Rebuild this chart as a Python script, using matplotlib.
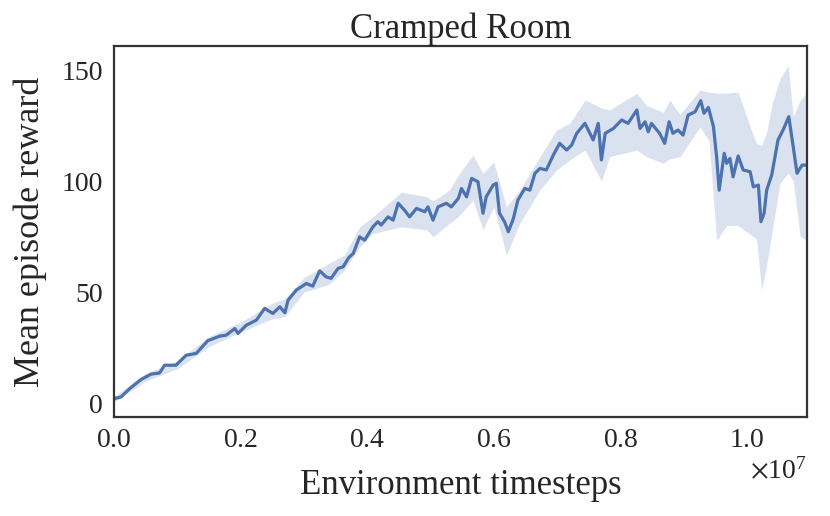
import matplotlib
matplotlib.use("Agg")
import matplotlib.pyplot as plt
import numpy as np
import seaborn as sns
from matplotlib.ticker import ScalarFormatter

# mean reward curve (x in units of 1e7 timesteps)
steps_e7 = [0.001, 0.011, 0.025, 0.043, 0.059, 0.072, 0.080, 0.098, 0.114, 0.130,
            0.148, 0.167, 0.177, 0.191, 0.196, 0.209, 0.225, 0.238, 0.251, 0.262,
            0.270, 0.275, 0.288, 0.304, 0.314, 0.325, 0.335, 0.343, 0.354, 0.362,
            0.371, 0.378, 0.388, 0.396, 0.409, 0.417, 0.422, 0.433, 0.441, 0.449,
            0.459, 0.467, 0.478, 0.491, 0.496, 0.504, 0.512, 0.525, 0.533, 0.544,
            0.549, 0.557, 0.565, 0.575, 0.583, 0.588, 0.599, 0.604, 0.609, 0.617,
            0.623, 0.631, 0.638, 0.649, 0.657, 0.665, 0.673, 0.683, 0.694, 0.704,
            0.715, 0.723, 0.731, 0.744, 0.757, 0.765, 0.770, 0.776, 0.789, 0.802,
            0.812, 0.826, 0.831, 0.839, 0.844, 0.849, 0.862, 0.870, 0.877, 0.883,
            0.891, 0.899, 0.907, 0.918, 0.927, 0.932, 0.939, 0.947, 0.952, 0.956,
            0.964, 0.968, 0.973, 0.978, 0.986, 0.994, 1.005, 1.010, 1.018, 1.022,
            1.027, 1.031, 1.039, 1.049, 1.057, 1.066, 1.073, 1.079, 1.087, 1.093]
mean_reward = [2.1, 2.8, 6.6, 10.7, 13.1, 13.6, 17.1, 17.1, 21.6, 22.4,
               28.1, 30.2, 30.6, 33.6, 31.4, 35.1, 37.4, 42.7, 40.4, 43.4,
               40.7, 46.4, 50.9, 53.9, 52.7, 59.6, 56.9, 56.2, 60.7, 61.4,
               65.6, 67.4, 74.9, 73.4, 79.4, 81.7, 80.2, 83.9, 82.4, 90.0,
               86.9, 83.9, 87.7, 86.2, 88.4, 82.4, 88.4, 90.0, 88.4, 92.2,
               96.7, 92.9, 101.2, 99.7, 85.5, 92.9, 98.2, 99.0, 85.5, 81.7,
               77.2, 83.2, 91.4, 96.7, 95.9, 103.5, 105.7, 105.0, 111.7, 117.0,
               114.0, 116.2, 121.5, 126.0, 118.5, 126.0, 109.5, 121.5, 123.7, 127.5,
               126.0, 132.0, 123.7, 126.7, 122.2, 126.0, 121.5, 117.0, 126.7, 121.5,
               123.0, 120.7, 129.7, 131.2, 136.2, 130.5, 133.2, 124.5, 110.9, 95.9,
               112.5, 108.0, 110.2, 101.9, 111.3, 105.0, 104.2, 97.4, 98.2, 81.7,
               85.5, 95.9, 102.7, 118.5, 123.0, 129.0, 115.5, 103.5, 107.2, 107.2]

# shaded band around the mean
band_e7 = [0.000, 0.050, 0.100, 0.150, 0.200, 0.250, 0.270, 0.300, 0.340, 0.364,
           0.388, 0.409, 0.454, 0.494, 0.504, 0.530, 0.544, 0.567, 0.583, 0.600,
           0.620, 0.641, 0.673, 0.699, 0.720, 0.744, 0.770, 0.783, 0.826, 0.841,
           0.868, 0.878, 0.894, 0.926, 0.940, 0.952, 0.968, 0.986, 1.005, 1.015,
           1.023, 1.031, 1.040, 1.052, 1.065, 1.073, 1.084, 1.094]
band_lo = [0.5, 10.0, 15.5, 25.5, 32.0, 38.0, 39.0, 50.0, 53.5, 59.9,
           70.4, 76.4, 79.4, 78.0, 74.9, 81.0, 84.0, 91.4, 78.0, 88.4,
           66.7, 81.0, 96.0, 105.0, 109.5, 114.0, 100.0, 111.0, 114.0, 111.0,
           108.0, 110.0, 111.0, 124.3, 118.0, 73.4, 80.0, 80.0, 76.0, 74.0,
           51.0, 62.0, 78.0, 99.0, 103.6, 100.0, 75.0, 73.4]
band_hi = [3.0, 13.5, 19.0, 30.0, 36.5, 45.0, 47.0, 56.5, 63.0, 66.7,
           79.4, 83.9, 95.0, 93.0, 91.0, 96.0, 102.7, 111.7, 103.5, 108.7,
           88.4, 96.0, 111.0, 123.0, 126.0, 136.5, 133.0, 132.0, 139.6, 134.0,
           131.0, 136.5, 130.0, 141.0, 140.0, 139.6, 139.6, 140.0, 124.5, 117.0,
           116.0, 122.0, 135.0, 146.0, 152.0, 129.0, 136.5, 139.6]

sns.set_style("white")
plt.rcParams['font.family'] = ['Liberation Serif', 'DejaVu Serif']
plt.rcParams['mathtext.fontset'] = 'stix'

steps = np.array(steps_e7) * 1e7
bsteps = np.array(band_e7) * 1e7

fig = plt.figure(figsize=(8.3, 5.16), dpi=100)
ax = fig.add_axes([0.1373, 0.1928, 0.972 - 0.1373, 0.9099 - 0.1928])

col = sns.color_palette("deep")[0]
ax.fill_between(bsteps, band_lo, band_hi, color=col, alpha=0.2, linewidth=0)
ax.plot(steps, mean_reward, color=col, linewidth=2.3)

ax.set_xlim(0, 1.0944e7)
ax.set_ylim(-6, 160.6)
ax.set_yticks([0, 50, 100, 150])
ax.set_xticks([0, 0.2e7, 0.4e7, 0.6e7, 0.8e7, 1.0e7])
fmt = ScalarFormatter(useMathText=True)
fmt.set_powerlimits((0, 0))
ax.xaxis.set_major_formatter(fmt)
ax.xaxis.get_offset_text().set_fontsize(20)

ax.tick_params(axis='both', labelsize=20, length=0, pad=8)
for s in ax.spines.values():
    s.set_color('#333333')
    s.set_linewidth(1.6)

ax.set_title('Cramped Room', fontsize=25, pad=6)
ax.set_xlabel('Environment timesteps', fontsize=25, labelpad=12)
ax.set_ylabel('Mean episode reward', fontsize=26, labelpad=10)

fig.savefig('out.png', dpi=100)
